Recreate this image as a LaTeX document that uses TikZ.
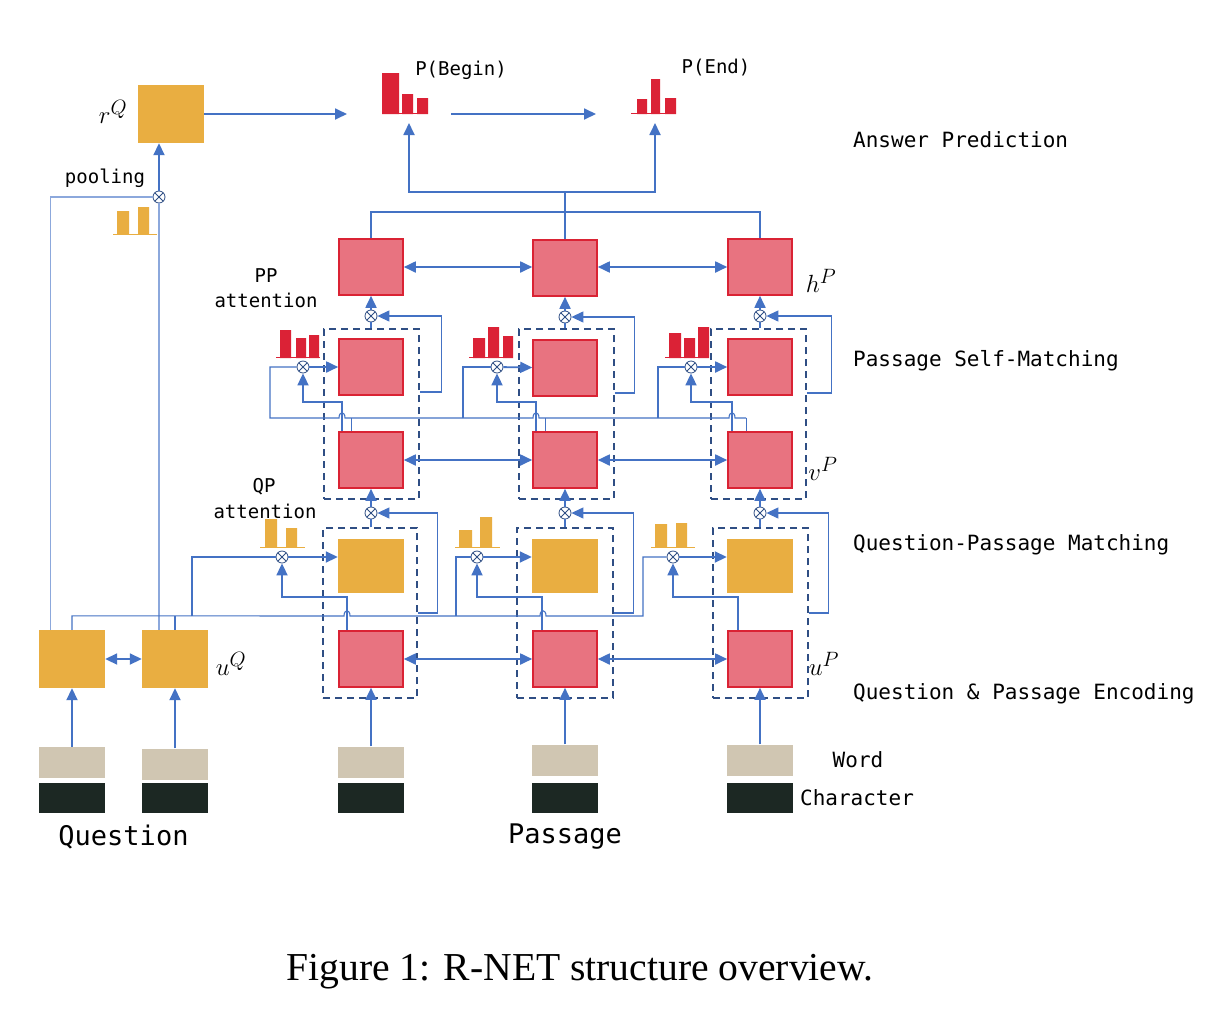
\documentclass[tikz,border=0pt]{standalone}
\usepackage{fontspec}
\setmainfont{Liberation Serif}
\setmonofont{DejaVu Sans Mono}
\usetikzlibrary{arrows.meta,calc}
\definecolor{qyel}{RGB}{233,174,65}
\definecolor{ppink}{RGB}{232,115,128}
\definecolor{pred}{RGB}{218,35,52}
\definecolor{barred}{RGB}{219,34,54}
\definecolor{ablue}{RGB}{68,114,196}
\definecolor{lblue}{RGB}{140,168,220}
\definecolor{dblue}{RGB}{47,78,132}
\definecolor{wtan}{RGB}{208,198,178}
\definecolor{cdark}{RGB}{28,40,35}
\newcommand\lblfont{\fontsize{19}{22}\selectfont\ttfamily}
\newcommand\rlblfont{\fontsize{21}{24}\selectfont\ttfamily}
\newcommand\bigfont{\fontsize{27}{30}\selectfont\ttfamily}
\newcommand\mathfont{\fontsize{30}{32}\selectfont}
\begin{document}
\begin{tikzpicture}[x=1pt,y=-1pt,
  ybox/.style={rectangle, fill=qyel, inner sep=0, minimum width=66pt, minimum height=58pt},
  rbox/.style={rectangle, fill=ppink, draw=pred, line width=1.6pt, inner sep=0, minimum width=64pt, minimum height=56pt},
  dbox/.style={rectangle, draw=dblue, line width=1.5pt, dash pattern=on 7pt off 5pt, inner sep=0},
  wbox/.style={rectangle, fill=wtan, inner sep=0, minimum width=66pt, minimum height=31pt},
  cbox/.style={rectangle, fill=cdark, inner sep=0, minimum width=66pt, minimum height=30pt},
  otim/.style={circle, draw=dblue, fill=white, line width=0.8pt, minimum size=12pt, inner sep=0,
    path picture={\draw[dblue, line width=0.8pt] (path picture bounding box.south east) -- (path picture bounding box.north west)
      (path picture bounding box.south west) -- (path picture bounding box.north east);}},
  thk/.style={draw=ablue, line width=1.8pt},
  arr/.style={thk, -{Triangle[length=12pt,width=11pt]}},
  darr/.style={thk, {Triangle[length=12pt,width=11pt]}-{Triangle[length=12pt,width=11pt]}},
  fb/.style={draw=ablue, line width=1.2pt, -{Triangle[length=12pt,width=11pt]}},
  thn/.style={draw=ablue, line width=1.1pt},
  pl/.style={draw=lblue, line width=1.3pt},
  lbl/.style={font=\lblfont, inner sep=0},
  rlbl/.style={font=\rlblfont, inner sep=0, anchor=base west},
  mlbl/.style={font=\mathfont, inner sep=0}
]
\fill[white] (0,0) rectangle (1212,1018);
\useasboundingbox (0,0) rectangle (1212,1018);

% dashed groups
\node[dbox, minimum width=95pt, minimum height=170pt] (du1) at (371.5,414) {};
\node[dbox, minimum width=95pt, minimum height=170pt] (du2) at (566.5,414) {};
\node[dbox, minimum width=95pt, minimum height=170pt] (du3) at (758.5,414) {};
\node[dbox, minimum width=94pt, minimum height=170pt] (dl1) at (370,613) {};
\node[dbox, minimum width=96pt, minimum height=170pt] (dl2) at (565,613) {};
\node[dbox, minimum width=95pt, minimum height=170pt] (dl3) at (760.5,613) {};

% boxes
\node[rbox] (h1) at (371,267) {};
\node[rbox] (h2) at (565,268) {};
\node[rbox] (h3) at (760,267) {};
\node[rbox] (s1) at (371,367) {};
\node[rbox] (s2) at (565,368) {};
\node[rbox] (s3) at (760,367) {};
\node[rbox] (v1) at (371,460) {};
\node[rbox] (v2) at (565,460) {};
\node[rbox] (v3) at (760,460) {};
\node[ybox, minimum height=54pt] (a1) at (371,566) {};
\node[ybox, minimum height=54pt] (a2) at (565,566) {};
\node[ybox, minimum height=54pt] (a3) at (760,566) {};
\node[rbox] (u1) at (371,659) {};
\node[rbox] (u2) at (565,659) {};
\node[rbox] (u3) at (760,659) {};
\node[ybox] (q1) at (72,659) {};
\node[ybox] (q2) at (175,659) {};
\node[ybox] (rq) at (171,114) {};

\node[wbox] (wq1) at (72,762.5) {};
\node[wbox] (wq2) at (175,764) {};
\node[wbox] (wp1) at (371,762) {};
\node[wbox] (wp2) at (565,760) {};
\node[wbox] (wp3) at (760,760) {};
\node[cbox] (cq1) at (72,798) {};
\node[cbox] (cq2) at (175,798) {};
\node[cbox] (cp1) at (371,798) {};
\node[cbox] (cp2) at (565,798) {};
\node[cbox] (cp3) at (760,798) {};

% otimes
\node[otim] (oh1) at (371,316) {};
\node[otim] (oh2) at (565,317) {};
\node[otim] (oh3) at (760,316) {};
\node[otim] (ov1) at (371,513) {};
\node[otim] (ov2) at (565,513) {};
\node[otim] (ov3) at (760,513) {};
\node[otim] (opp1) at (303,367) {};
\node[otim] (opp2) at (497,367) {};
\node[otim] (opp3) at (691,367) {};
\node[otim] (oqp1) at (282,557) {};
\node[otim] (oqp2) at (477,557) {};
\node[otim] (oqp3) at (673,557) {};
\node[otim] (opool) at (159,197) {};

% attention bars
\fill[barred] (280,330) rectangle (291,358) (296,338) rectangle (306,358) (309,335) rectangle (319,358);
\draw[barred, line width=0.8pt] (276,357.5) -- (320,357.5);
\fill[barred] (473,338) rectangle (485,358) (488,327) rectangle (499,358) (503,336) rectangle (513,358);
\draw[barred, line width=0.8pt] (469,357.5) -- (513,357.5);
\fill[barred] (669,333) rectangle (681,358) (684,338) rectangle (695,358) (698,327) rectangle (709,358);
\draw[barred, line width=0.8pt] (665,357.5) -- (709,357.5);
\fill[qyel] (265,519) rectangle (277,547) (286,528) rectangle (297,547);
\draw[qyel, line width=0.8pt] (260,547) -- (305,547);
\fill[qyel] (459,530) rectangle (472,547) (480,517) rectangle (492,547);
\draw[qyel, line width=0.8pt] (455,547) -- (500,547);
\fill[qyel] (655,524) rectangle (667,547) (676,523) rectangle (687,547);
\draw[qyel, line width=0.8pt] (651,547) -- (695,547);
\fill[qyel] (117,211) rectangle (129,234) (138,207) rectangle (149,234);
\draw[qyel, line width=0.8pt] (113,234) -- (157,234);
% answer bars
\fill[barred] (382,73) rectangle (399,114) (402,94) rectangle (413,114) (417,98) rectangle (428,114);
\draw[barred, line width=0.8pt] (399,113.5) -- (417,113.5);
\fill[barred] (637,99) rectangle (647,114) (651,79) rectangle (660,114) (665,98) rectangle (676,114);
\draw[barred, line width=0.8pt] (631,113.5) -- (676,113.5);

\coordinate (pbeg) at (409,123);
\coordinate (pend) at (655,123);
\coordinate (rqend) at (347,114);
\coordinate (pbout) at (451,114);
\coordinate (pein) at (596,114);

% pooling lines
\draw[pl] ($(q1.north west)+(12,0)$) |- (opool);
\draw[pl] (opool |- q2.north) -- (opool);
\draw[arr] (opool) -- (opool |- rq.south);
\draw[arr] (rq) -- (rqend);
\draw[arr] (pbout) -- (pein);

% top bus
\draw[thn] (h1.north) -- (h1.north |- 0,212) -- (h3.north |- 0,212) -- (h3.north);
\draw[thn] (h2.north) -- (h2.north |- 0,212) -- ++(0,-20) coordinate (tj);
\draw[arr] (tj) -| (pbeg);
\draw[arr] (tj) -| (pend);

% word to encoders
\draw[arr] (wq1) -- (q1);
\draw[arr] (wq2.north -| q2) -- (q2);
\draw[arr] (wp1) -- (u1);
\draw[arr] (wp2) -- (u2);
\draw[arr] (wp3) -- (u3);

% bidirectional
\draw[darr] (q1) -- (q2);
\draw[darr] (u1) -- (u2);
\draw[darr] (u2) -- (u3);
\draw[darr] (v1) -- (v2);
\draw[darr] (v2) -- (v3);
\draw[darr] (h1) -- (h2.west |- h1);
\draw[darr] (h2.east |- h3) -- (h3);

% gates
\draw[arr] (opp1) -- (s1);
\draw[arr] (opp2) -- (s2);
\draw[arr] (opp3) -- (s3);
\draw[arr] (oqp1) -- (oqp1 -| a1.west);
\draw[arr] (oqp2) -- (oqp2 -| a2.west);
\draw[arr] (oqp3) -- (oqp3 -| a3.west);
\draw[arr] (oh1) -- (h1);
\draw[arr] (oh2) -- (h2);
\draw[arr] (oh3) -- (h3);
\draw[arr] (ov1) -- (v1);
\draw[arr] (ov2) -- (v2);
\draw[arr] (ov3) -- (v3);
\draw[thn] (du1.north -| oh1) -- (oh1);
\draw[thn] (du2.north -| oh2) -- (oh2);
\draw[thn] (du3.north -| oh3) -- (oh3);
\draw[thn] (dl1.north -| ov1) -- (ov1);
\draw[thn] (dl2.north -| ov2) -- (ov2);
\draw[thn] (dl3.north -| ov3) -- (ov3);

% feedback
\draw[fb] (du1.east |- 0,392) -- ++(22,0) |- (oh1);
\draw[fb] (du2.east |- 0,393) -- ++(20,0) |- (oh2);
\draw[fb] (du3.east |- 0,393) -- ++(25,0) |- (oh3);
\draw[fb] (dl1.east |- 0,613) -- ++(20,0) |- (ov1);
\draw[fb] (dl2.east |- 0,613) -- ++(20,0) |- (ov2);
\draw[fb] (dl3.east |- 0,613) -- ++(20,0) |- (ov3);

% passage self-matching bus
\draw[thn] ($(v1.north west)+(13,0)$) -- ++(0,-13);
\draw[thn] ($(v2.north west)+(13,0)$) -- ++(0,-13);
\draw[thn] ($(v3.north west)+(19,0)$) -- ++(0,-13);
\draw[thn] (opp1) -| (270,418) -- (339,418) .. controls (339,411) and (345,411) .. (345,418)
  -- (533,418) .. controls (533,411) and (539,411) .. (539,418)
  -- (729,418) .. controls (729,411) and (735,411) .. (735,418) -- (746,418);
\draw[thn] (463,418) |- (opp2);
\draw[thn] (658,418) |- (opp3);
\draw[arr] ($(v1.north west)+(4,0)$) -- ++(0,-29) -| (opp1);
\draw[arr] ($(v2.north west)+(4,0)$) -- ++(0,-29) -| (opp2);
\draw[arr] ($(v3.north west)+(5,0)$) -- ++(0,-29) -| (opp3);

% question-passage bus
\draw[thn] (q1.north) -- ++(0,-14) -- (344,616) .. controls (344,609) and (350,609) .. (350,616)
  -- (540,616) .. controls (540,609) and (546,609) .. (546,616) -- (643,616) |- (oqp3);
\draw[thn] (q2.north) -- ++(0,-14);
\draw[thn] (192,616) |- (oqp1);
\draw[thn] (456,616) |- (oqp2);
\draw[arr] ($(u1.north west)+(9,0)$) -- ++(0,-33) -| (oqp1);
\draw[arr] ($(u2.north west)+(10,0)$) -- ++(0,-33) -| (oqp2);
\draw[arr] ($(u3.north west)+(11,0)$) -- ++(0,-33) -| (oqp3);

% labels
\node[lbl, anchor=base] (tpool) at (105,183) {pooling};
\node[lbl, anchor=base] (tpp) at (266,282) {PP};
\node[lbl, anchor=base] (tppa) at (266,307) {attention};
\node[lbl, anchor=base] (tqp) at (264,492) {QP};
\node[lbl, anchor=base] (tqpa) at (265,518) {attention};
\node[lbl, anchor=base] (tpb) at (461,75) {P(Begin)};
\node[lbl, anchor=base] (tpe) at (716,73) {P(End)};
\node[rlbl] (tans) at (853,147) {Answer Prediction};
\node[rlbl] (tsm) at (853,366) {Passage Self-Matching};
\node[rlbl] (tqpm) at (853,550) {Question-Passage Matching};
\node[rlbl] (tenc) at (853,699) {Question \& Passage Encoding};
\node[font=\rlblfont, inner sep=0, anchor=base] (tword) at (858,767) {Word};
\node[font=\rlblfont, inner sep=0, anchor=base] (tchar) at (857,805) {Character};
\node[font=\bigfont, inner sep=0, anchor=base] (tq) at (123.5,845) {Question};
\node[font=\bigfont, inner sep=0, anchor=base] (tp) at (565,843) {Passage};
\node[mlbl] (lrq) at (113,112) {$r^Q$};
\node[mlbl] (lhp) at (821,281) {$h^P$};
\node[mlbl] (lvp) at (823,469) {$v^P$};
\node[mlbl] (lup) at (824,664) {$u^P$};
\node[mlbl] (luq) at (231,664) {$u^Q$};
\node[font=\fontsize{39.6}{44}\selectfont, inner sep=0, anchor=base] (cap) at (580,980) {Figure 1: R-NET structure overview.};
\end{tikzpicture}
\end{document}
